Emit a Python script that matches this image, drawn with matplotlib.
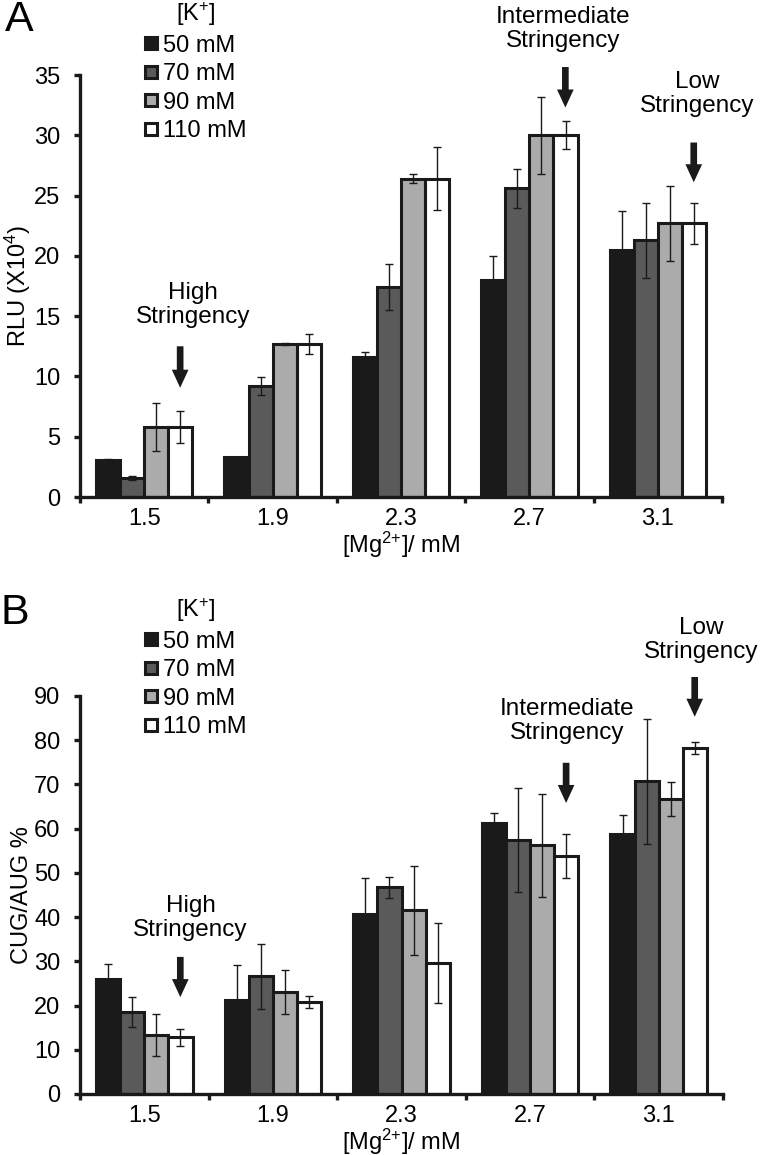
import matplotlib
matplotlib.use('Agg')
import matplotlib.pyplot as plt
import numpy as np
from matplotlib.lines import Line2D

plt.rcParams['font.family'] = ['Liberation Sans', 'DejaVu Sans']
plt.rcParams['mathtext.fontset'] = 'custom'
plt.rcParams['mathtext.rm'] = 'Liberation Sans'
plt.rcParams['mathtext.it'] = 'Liberation Sans'
plt.rcParams['mathtext.bf'] = 'Liberation Sans:bold'

# ---- data ----
mg_labels = ['1.5', '1.9', '2.3', '2.7', '3.1']
k_labels = ['50 mM', '70 mM', '90 mM', '110 mM']

rlu_50 = [3.1, 3.3, 11.6, 18.0, 20.5]
rlu_70 = [1.6, 9.2, 17.4, 25.6, 21.3]
rlu_90 = [5.8, 12.7, 26.4, 30.0, 22.7]
rlu_110 = [5.8, 12.7, 26.4, 30.0, 22.7]
rlu_50_err = [0.05, 0.05, 0.4, 2.0, 3.2]
rlu_70_err = [0.15, 0.75, 1.9, 1.6, 3.1]
rlu_90_err = [2.0, 0.08, 0.35, 3.2, 3.1]
rlu_110_err = [1.3, 0.85, 2.6, 1.15, 1.7]

cug_50 = [26.1, 21.3, 40.7, 61.3, 58.8]
cug_70 = [18.6, 26.6, 46.7, 57.5, 70.7]
cug_90 = [13.3, 23.1, 41.5, 56.2, 66.7]
cug_110 = [12.8, 20.9, 29.6, 53.9, 78.3]
cug_50_err = [3.3, 7.9, 8.2, 2.2, 4.4]
cug_70_err = [3.4, 7.4, 2.4, 11.8, 14.1]
cug_90_err = [4.8, 4.9, 10.0, 11.7, 3.75]
cug_110_err = [1.9, 1.35, 9.0, 5.0, 1.35]

colors = ['#1a1a1a', '#5a5a5a', '#ababab', '#ffffff']
EDGE = '#1a1a1a'
FS = 17

fig = plt.figure(figsize=(7.6, 11.55), dpi=100)
W, H = 760, 1155

def px_axes(l, r, b, t):
    return fig.add_axes([l / W, 1 - b / H, (r - l) / W, (b - t) / H])

axA = px_axes(80, 722, 497, 75)
axB = px_axes(80, 723, 1094, 696)

bw = 0.1875

def draw(ax, series, errs, ymax, ystep, ylabel):
    x = np.arange(len(mg_labels)) + 0.5
    for j, (vals, er) in enumerate(zip(series, errs)):
        xs = x + (j - 1.5) * bw
        ax.bar(xs, vals, width=bw, color=colors[j], edgecolor=EDGE,
               linewidth=2.2, zorder=2)
        ax.errorbar(xs, vals, yerr=er, fmt='none', ecolor='#1a1a1a',
                    elinewidth=1.0, capsize=3, capthick=1.0, zorder=3)
    ax.set_xlim(0, len(mg_labels))
    ax.set_ylim(0, ymax)
    ax.set_yticks(np.arange(0, ymax + 0.1, ystep))
    ax.set_xticks(x)
    ax.set_xticklabels(mg_labels)
    ax.set_xticks(np.arange(0, len(mg_labels) + 1), minor=True)
    for s in ['top', 'right']:
        ax.spines[s].set_visible(False)
    for s in ['left', 'bottom']:
        ax.spines[s].set_linewidth(2.4)
        ax.spines[s].set_color('#1a1a1a')
        ax.spines[s].set_capstyle('projecting')
    ax.tick_params(axis='y', direction='out', length=4, width=2.4,
                   labelsize=FS, pad=10, color='#1a1a1a')
    ax.tick_params(axis='x', which='major', length=0, labelsize=FS, pad=8)
    ax.tick_params(axis='x', which='minor', direction='out', length=4,
                   width=2.4, color='#1a1a1a')
    ax.set_xlabel(r'[Mg$^{2{+}}$]/ mM', fontsize=FS, labelpad=0)
    ax.set_ylabel(ylabel, fontsize=FS, labelpad=1)
    handles = [Line2D([], [], marker='s', linestyle='none', markersize=8,
                      markerfacecolor=c, markeredgecolor='#1a1a1a',
                      markeredgewidth=2.2) for c in colors]
    return handles

hA = draw(axA, [rlu_50, rlu_70, rlu_90, rlu_110],
          [rlu_50_err, rlu_70_err, rlu_90_err, rlu_110_err],
          35, 5, r'RLU (X10$^{4}$)')
hB = draw(axB, [cug_50, cug_70, cug_90, cug_110],
          [cug_50_err, cug_70_err, cug_90_err, cug_110_err],
          90, 10, 'CUG/AUG %')

for h, ytop in [(hA, 0), (hB, 596)]:
    fig.legend(h, k_labels, title=r'[K$^{{+}}$]', title_fontsize=FS,
               fontsize=FS, loc='upper left',
               bbox_to_anchor=(145 / W, 1 - ytop / H),
               frameon=False, borderpad=0, handlelength=0.55,
               handletextpad=0.2, labelspacing=0.28, borderaxespad=0)

arrow_kw = dict(arrowstyle='simple,head_length=1.3,head_width=1.2,tail_width=0.48',
                fc='#1a1a1a', ec='none', mutation_scale=10, shrinkA=0, shrinkB=0)

def mark(ax, text, tx, ty, ax_x, y0, y1):
    ax.text(tx, ty, text, ha='center', va='center', fontsize=17.5,
            linespacing=1.12, clip_on=False)
    ax.annotate('', xy=(ax_x, y1), xytext=(ax_x, y0), arrowprops=arrow_kw,
                annotation_clip=False)

mark(axA, 'High\nStringency', 0.88, 15.9, 0.78, 12.5, 9.06)
mark(axA, 'Intermediate\nStringency', 3.76, 38.8, 3.78, 35.66, 32.3)
mark(axA, 'Low\nStringency', 4.81, 33.4, 4.78, 29.4, 26.1)

mark(axB, 'High\nStringency', 0.86, 39.8, 0.78, 31.0, 21.9)
mark(axB, 'Intermediate\nStringency', 3.79, 84.4, 3.78, 74.9, 65.8)
mark(axB, 'Low\nStringency', 4.83, 102.7, 4.78, 94.3, 85.3)

fig.text(5 / W, 1 - 0 / H, 'A', fontsize=31, va='top', ha='left')
fig.text(0 / W, 1 - 593 / H, 'B', fontsize=31, va='top', ha='left')

fig.savefig('out.png', dpi=100)
